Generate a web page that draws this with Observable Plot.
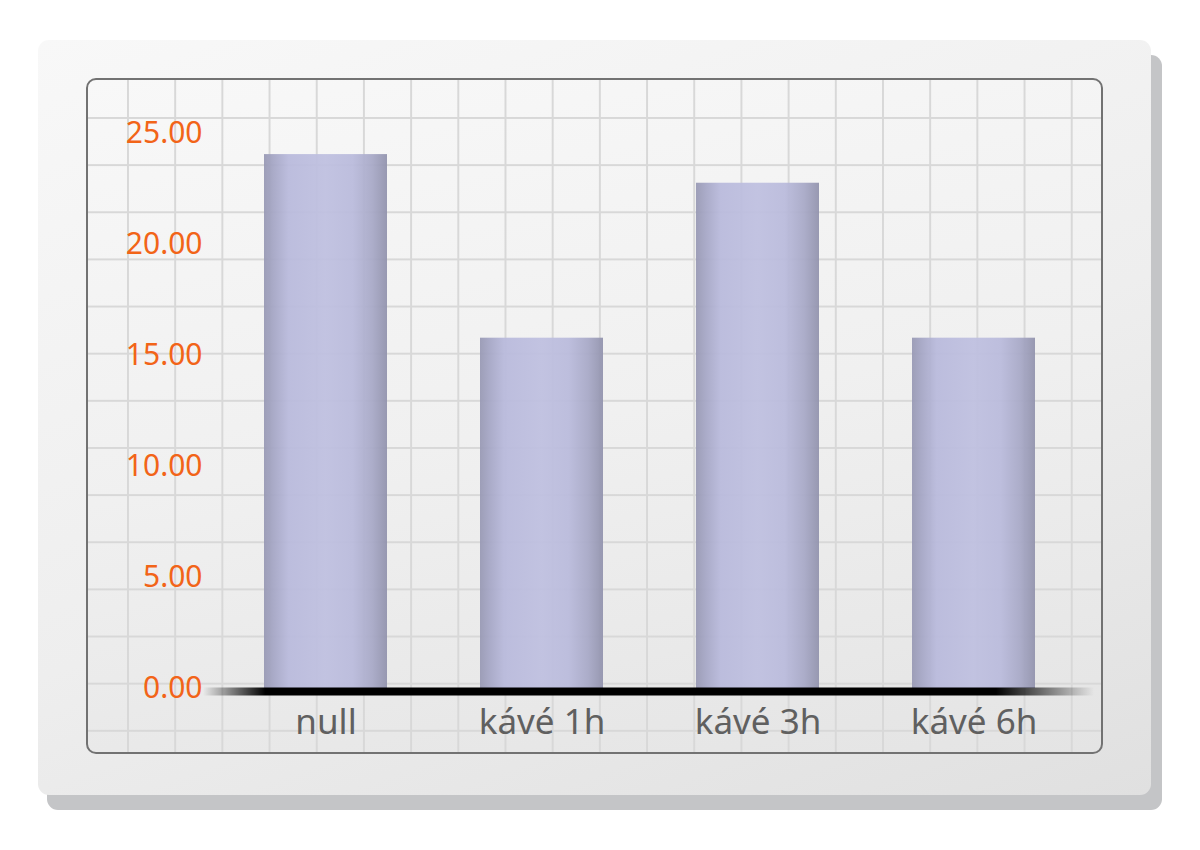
<!DOCTYPE html>
<html>
<head>
<meta charset="utf-8">
<script src="https://cdn.jsdelivr.net/npm/d3@7"></script>
<script src="https://cdn.jsdelivr.net/npm/@observablehq/plot@0.6"></script>
<style>
  html, body { margin: 0; padding: 0; background: #ffffff; }
  #stage { position: relative; width: 1200px; height: 850px; overflow: hidden; font-family: "Noto Sans", sans-serif; }
  #shadow { position: absolute; left: 47px; top: 55px; width: 1115px; height: 755px; border-radius: 11px; background: #c4c5c7; }
  #card { position: absolute; left: 38px; top: 40px; width: 1113px; height: 755px; border-radius: 11px;
          background: linear-gradient(160deg, #f8f8f8 0%, #eeeeee 55%, #e0e0e0 100%); }
  #panel { position: absolute; left: 86px; top: 78px; width: 1013px; height: 672px; border: 2px solid #727272; border-radius: 10px;
           background-image:
             linear-gradient(to right, #d8d8d8 2px, transparent 2px),
             linear-gradient(to bottom, #d8d8d8 2px, transparent 2px),
             linear-gradient(170deg, #f8f8f8 0%, #f0f0f0 50%, #e4e4e4 100%);
           background-size: 47.2px 100%, 100% 47.15px, 100% 100%;
           background-position: 39px 0, 0 37px, 0 0;
           background-repeat: repeat-x, repeat-y, no-repeat; }
  #chart { position: absolute; left: 86px; top: 78px; width: 1017px; height: 676px; }
</style>
</head>
<body>
<div id="stage">
  <div id="shadow"></div>
  <div id="card"></div>
  <div id="panel"></div>
  <div id="chart"></div>
</div>
<script>
const categories = ["null", "kávé 1h", "kávé 3h", "kávé 6h"];
const values = [24.05, 15.78, 22.76, 15.78];
const yTicks = [0, 5, 10, 15, 20, 25];

const data = categories.map((c, i) => ({cat: c, value: values[i]}));

const W = 1017, H = 676, ML = 130, MR = 21, MT = 55, MB = 66;

const chart = Plot.plot({
  width: W,
  height: H,
  marginLeft: ML,
  marginRight: MR,
  marginTop: MT,
  marginBottom: MB,
  style: {background: "transparent", fontFamily: "'Noto Sans', sans-serif", overflow: "visible"},
  x: {domain: categories, paddingInner: 0.431, paddingOuter: 0.217},
  y: {domain: [0, 25]},
  marks: [
    Plot.barY(data, {x: "cat", y: "value", fill: "url(#barGrad)", fillOpacity: 0.94}),
    Plot.ruleY([0], {stroke: "url(#baseGrad)", strokeWidth: 8, dy: 3, insetLeft: -13, insetRight: -12}),
    Plot.axisY({ticks: yTicks, tickFormat: d3.format(".2f"), tickSize: 0, tickPadding: 14, fontSize: 30, color: "#f26418", label: null}),
    Plot.axisX({tickSize: 0, tickPadding: 21, fontSize: 35, color: "#606060", label: null})
  ]
});

const svg = d3.select(chart);
const defs = svg.insert("defs", ":first-child");
const bg = defs.append("linearGradient").attr("id", "barGrad").attr("x1", 0).attr("x2", 1).attr("y1", 0).attr("y2", 0);
[[0, "#9899b4"], [0.08, "#a6a7c6"], [0.2, "#b9badc"], [0.5, "#bfc0e0"], [0.72, "#babbdc"], [0.88, "#a8a9c7"], [1, "#9293ad"]]
  .forEach(([o, c]) => bg.append("stop").attr("offset", o).attr("stop-color", c));
const lg = defs.append("linearGradient").attr("id", "baseGrad").attr("gradientUnits", "userSpaceOnUse")
  .attr("x1", ML - 13).attr("x2", W - MR + 12).attr("y1", 0).attr("y2", 0);
[[0, 0], [0.07, 1], [0.89, 1], [1, 0]]
  .forEach(([o, a]) => lg.append("stop").attr("offset", o).attr("stop-color", "#000").attr("stop-opacity", a));

document.getElementById("chart").appendChild(chart);
</script>
</body>
</html>
